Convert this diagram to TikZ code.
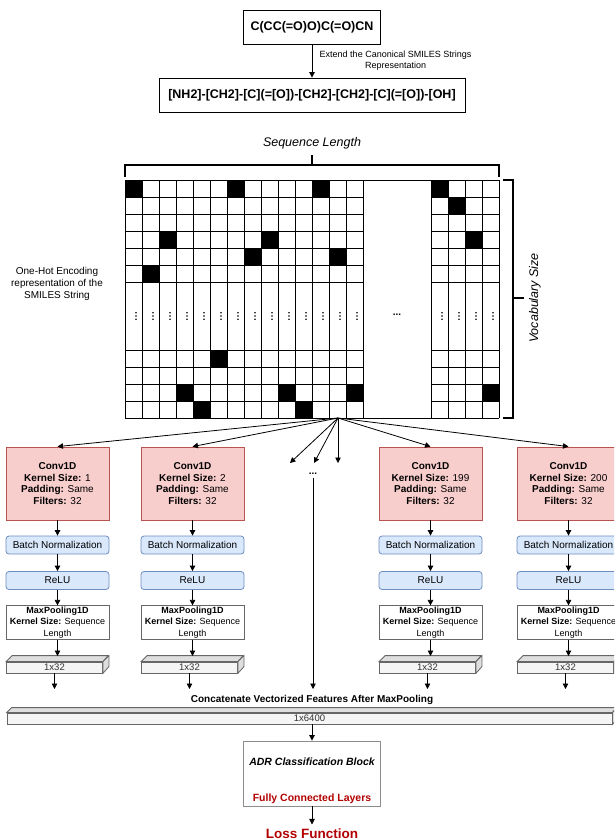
\documentclass[tikz,border=0pt]{standalone}
\usepackage{fontspec}
\setmainfont{Liberation Sans}
\usetikzlibrary{arrows.meta,positioning}
\definecolor{convfill}{HTML}{F8CECC}
\definecolor{convline}{HTML}{B85450}
\definecolor{bnfill}{HTML}{DAE8FC}
\definecolor{bnline}{HTML}{6C8EBF}
\definecolor{vecfill}{HTML}{F5F5F5}
\definecolor{vecline}{HTML}{666666}
\definecolor{vectop}{HTML}{DEDEDE}
\definecolor{lossred}{HTML}{B20000}

\begin{document}
\begin{tikzpicture}[x=1pt, y=-1pt, line width=0.8pt, >={Triangle[length=5.5pt,width=5.5pt]}]
\useasboundingbox (0,0) rectangle (614,839);
\clip (0,0) rectangle (614,839);
\tikzstyle{smiles} = [draw, minimum height=34pt, font=\fontsize{12.5}{14}\selectfont\bfseries]
\tikzstyle{lbl} = [align=center, font=\fontsize{9}{11}\selectfont]
\tikzstyle{conv} = [draw=convline, fill=convfill, minimum width=103pt, minimum height=73pt, align=center, font=\fontsize{10}{11.7}\selectfont]
\tikzstyle{bn} = [draw=bnline, fill=bnfill, rounded corners=3pt, minimum width=103pt, minimum height=18pt, inner sep=0pt, font=\fontsize{10}{12}\selectfont]
\tikzstyle{mp} = [draw=vecline, fill=white, minimum width=103pt, minimum height=33pt, inner sep=1pt, align=center, font=\fontsize{9}{11.5}\selectfont]
\tikzstyle{vec} = [draw=vecline, fill=vecfill, minimum height=11pt, inner sep=0pt, text=black!80, font=\fontsize{9.5}{10}\selectfont]
% SMILES strings
\node[smiles, minimum width=137pt] (can) at (312,27) {C(CC(=O)O)C(=O)CN};
\node[smiles, minimum width=306pt] (ext) at (312,95) {[NH2]-[CH2]-[C](=[O])-[CH2]-[CH2]-[C](=[O])-[OH]};
\draw[->] (can) -- node[lbl, right=4pt] {Extend the Canonical SMILES Strings\\Representation} (ext);
% one-hot matrix
\foreach \i/\j in {0/0,6/0,11/0,2/3,8/3,7/4,12/4,1/5,5/10,3/12,9/12,13/12,4/13,10/13,18/0,19/1,20/3,21/12}
  \fill ({125+17*\i},{180+17*\j}) rectangle ++(17,17);
\foreach \i in {0,...,14,18,19,...,22}
  \draw ({125+17*\i},180) -- ({125+17*\i},418);
\foreach \j in {0,...,6,10,11,...,14}
  \draw (125,{180+17*\j}) -- (363,{180+17*\j}) (431,{180+17*\j}) -- (499,{180+17*\j});
\draw (363,180) -- (431,180) (363,418) -- (431,418);
\foreach \i in {0,...,13,18,19,...,21}
  \foreach \k in {-3.2,0,3.2}
    \fill ({136+17*\i},{316+\k}) circle (0.9pt);
\node[font=\fontsize{10}{12}\selectfont\bfseries] (gd) at (397,315) {...};
\draw[line width=1.2pt] (125,177) -- (125,165) -- (499,165) -- (499,177) (312,165) -- (312,155);
\node[font=\fontsize{12.5}{14}\selectfont\itshape] (seq) at (312,143) {Sequence Length};
\draw[line width=1.2pt] (503,180) -- (513,180) -- (513,418) -- (503,418) (513,298) -- (524,298);
\node[rotate=90, font=\fontsize{12.5}{14}\selectfont\itshape] (voc) at (535,298) {Vocabulary Size};
\node[align=center, font=\fontsize{10}{12}\selectfont] (oh) at (57,284) {One-Hot Encoding\\representation of the\\SMILES String};
% convolution branches
\foreach \x/\k/\n in {57.5/1/a,192.5/2/b,430.5/199/c,568.5/200/d} {
  \node[conv] (conv\n) at (\x,483.5) {\textbf{Conv1D}\\\textbf{Kernel Size:} \k\\\textbf{Padding:} Same\\\textbf{Filters:} 32};
  \node[bn] (bn\n) at (\x,545) {Batch Normalization};
  \node[bn] (relu\n) at (\x,580.5) {ReLU};
  \node[mp] (mp\n) at (\x,622.5) {\textbf{MaxPooling1D}\\\textbf{Kernel Size:} Sequence\\Length};
  \node[vec, minimum width=96pt] (vec\n) at (\x-3,667.5) {1x32};
  \draw[vecline, fill=vectop] (vec\n.north west) -- ++(6,-6) -- ++(96,0) -- (vec\n.north east) -- cycle;
  \draw[vecline, fill=vectop] (vec\n.north east) -- ++(6,-6) -- ++(0,11) -- (vec\n.south east) -- cycle;
  \coordinate (t\n) at (\x,656);
  \coordinate (v\n) at (\x-3,689);
  \draw[->] (conv\n) -- (bn\n);
  \draw[->] (bn\n) -- (relu\n);
  \draw[->] (relu\n) -- (mp\n);
  \draw[->] (mp\n) -- (t\n);
  \draw[->] (vec\n) -- (v\n);
}
\coordinate (g) at (338,418);
\coordinate (e1) at (290,463);
\coordinate (e2) at (314,463);
\coordinate (e3) at (338,463);
\foreach \t in {conva.north,convb.north,e1,e2,e3,convc.north,convd.north}
  \draw[->] (g) -- (\t);
\node[font=\fontsize{10}{12}\selectfont\bfseries] (cd) at (313,474) {...};
\coordinate (cdend) at (313,689);
\draw[->] (cd) -- (cdend);
% concatenation and classifier
\node[font=\fontsize{10}{12}\selectfont\bfseries] (catl) at (312,700) {Concatenate Vectorized Features After MaxPooling};
\node[vec, minimum width=605pt] (cat) at (309.5,718.5) {1x6400};
\draw[vecline, fill=vectop] (cat.north west) -- ++(5,-5) -- ++(605,0) -- (cat.north east) -- cycle;
\draw[vecline, fill=vectop] (cat.north east) -- ++(5,-5) -- ++(0,11) -- (cat.south east) -- cycle;
\node[draw=black!45, minimum width=137pt, minimum height=65pt] (adr) at (312,773.5) {};
\node[font=\fontsize{10.5}{12}\selectfont\bfseries\itshape] (adrt) at (312,762) {ADR Classification Block};
\node[text=lossred, font=\fontsize{10.5}{12}\selectfont\bfseries] (fcl) at (312,799) {Fully Connected Layers};
\draw[->] (cat.south -| adr) -- (adr);
\node[anchor=base, text=lossred, font=\fontsize{13.5}{15}\selectfont\bfseries] (loss) at (312,838) {Loss Function};
\draw[->] (adr) -- (loss);
\end{tikzpicture}
\end{document}
